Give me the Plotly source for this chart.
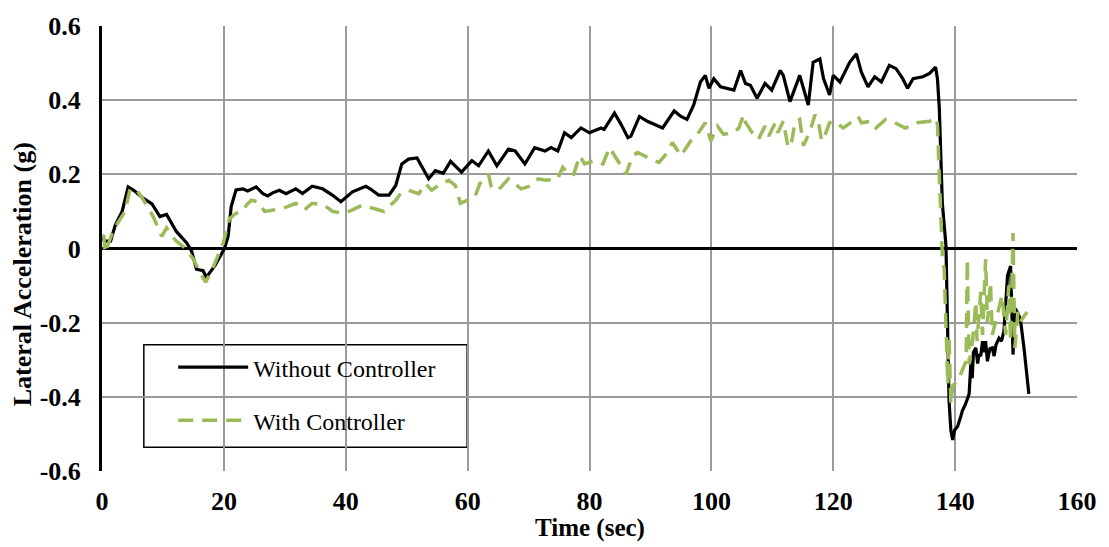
import plotly.graph_objects as go

# ---------------- data (time in s, lateral acceleration in g) ----------------
without_points = [
    (0.0, 0.03), (0.5, 0.02), (1.4, 0.02), (2.2, 0.064), (3.3, 0.10), (4.3, 0.166), (5.2, 0.157),
    (6.8, 0.135), (8.2, 0.12), (9.5, 0.086), (10.6, 0.092), (12.2, 0.046), (13.9, 0.015), (14.7, -0.007),
    (15.5, -0.056), (16.6, -0.06), (17.1, -0.078), (18.5, -0.047), (20.1, 0.0), (20.7, 0.033), (21.2, 0.113),
    (22.0, 0.158), (23.1, 0.161), (23.9, 0.155), (25.3, 0.166), (26.4, 0.148), (27.2, 0.142), (28.0, 0.15),
    (29.1, 0.157), (30.2, 0.148), (31.8, 0.161), (32.9, 0.148), (34.5, 0.168), (36.2, 0.161), (37.8, 0.144),
    (39.2, 0.126), (41.1, 0.153), (43.3, 0.168), (44.0, 0.161), (45.4, 0.144), (47.1, 0.144), (48.2, 0.170),
    (49.2, 0.228), (50.3, 0.241), (51.7, 0.244), (52.5, 0.219), (53.6, 0.188), (54.7, 0.21), (55.4, 0.206),
    (56.0, 0.203), (57.2, 0.235), (59.0, 0.206), (60.7, 0.237), (61.8, 0.223), (63.4, 0.263), (64.8, 0.223),
    (66.7, 0.268), (67.8, 0.263), (69.4, 0.228), (71.0, 0.272), (72.7, 0.263), (73.7, 0.272), (74.8, 0.263),
    (75.9, 0.312), (77.0, 0.299), (78.6, 0.325), (80.0, 0.312), (81.9, 0.325), (82.4, 0.321), (84.1, 0.365),
    (85.2, 0.334), (86.3, 0.299), (86.8, 0.303), (88.2, 0.356), (89.5, 0.343), (91.1, 0.33), (92.0, 0.325),
    (93.9, 0.371), (95.0, 0.356), (96.0, 0.348), (97.1, 0.387), (98.2, 0.449), (99.0, 0.467), (99.6, 0.432),
    (100.4, 0.458), (101.5, 0.436), (102.6, 0.432), (103.7, 0.427), (104.8, 0.480), (105.6, 0.445),
    (106.4, 0.44), (107.5, 0.405), (108.8, 0.445), (109.9, 0.427), (111.3, 0.48), (111.8, 0.467),
    (112.9, 0.396), (114.5, 0.467), (115.9, 0.387), (116.7, 0.502), (117.8, 0.511), (118.4, 0.458),
    (119.4, 0.414), (120.0, 0.467), (121.1, 0.449), (122.7, 0.502), (123.8, 0.525), (124.6, 0.476),
    (125.7, 0.436), (126.8, 0.463), (127.9, 0.449), (129.2, 0.494), (130.3, 0.485), (131.4, 0.458),
    (132.2, 0.432), (133.1, 0.458), (134.7, 0.463), (135.8, 0.472), (136.8, 0.489), (137.1, 0.458),
    (137.4, 0.379), (137.9, 0.122), (138.5, 0.007), (139.0, -0.41), (139.3, -0.49), (139.6, -0.516),
    (139.9, -0.49), (140.4, -0.48), (140.8, -0.46), (141.2, -0.437), (141.7, -0.42), (142.3, -0.392),
    (142.6, -0.304), (142.8, -0.35), (143.0, -0.28), (143.4, -0.268), (143.7, -0.31), (143.9, -0.286),
    (144.2, -0.29), (144.5, -0.25), (144.8, -0.28), (145.0, -0.25), (145.3, -0.304), (145.7, -0.27),
    (146.1, -0.268), (146.4, -0.29), (146.7, -0.26), (147.2, -0.242), (147.6, -0.25), (148.0, -0.224),
    (148.3, -0.15), (148.6, -0.073), (149.1, -0.047), (149.5, -0.286), (149.9, -0.162), (150.3, -0.175),
    (150.7, -0.189), (151.3, -0.268), (152.1, -0.392),
]

with_points = [
    (0.0, 0.035), (0.3, 0.033), (0.5, -0.011), (1.0, 0.01), (1.9, 0.05), (3.0, 0.08), (3.8, 0.1),
    (4.6, 0.161), (5.7, 0.157), (6.5, 0.139), (7.5, 0.11), (8.4, 0.086), (9.8, 0.033), (10.6, 0.055),
    (11.4, 0.035), (12.2, 0.02), (13.6, 0.002), (15.0, -0.029), (15.8, -0.056), (17.0, -0.091), (18.0, -0.06),
    (18.8, -0.029), (19.9, 0.015), (20.9, 0.08), (22.0, 0.095), (23.1, 0.1), (23.7, 0.117), (24.5, 0.13),
    (25.6, 0.126), (26.7, 0.1), (28.6, 0.104), (29.7, 0.108), (31.8, 0.122), (33.2, 0.104), (34.5, 0.122),
    (36.5, 0.117), (37.8, 0.1), (39.7, 0.095), (41.1, 0.104), (42.7, 0.117), (44.6, 0.108), (46.3, 0.1),
    (48.2, 0.13), (49.0, 0.148), (50.3, 0.157), (52.0, 0.148), (53.1, 0.175), (54.1, 0.157), (55.2, 0.17),
    (56.9, 0.184), (58.0, 0.17), (58.8, 0.122), (61.2, 0.139), (62.0, 0.175), (63.4, 0.201), (63.9, 0.166),
    (65.0, 0.157), (66.7, 0.188), (68.8, 0.161), (70.5, 0.17), (71.6, 0.188), (72.9, 0.184), (74.8, 0.188),
    (75.6, 0.219), (76.7, 0.197), (77.4, 0.2), (78.4, 0.25), (79.2, 0.228), (80.8, 0.237), (82.2, 0.228),
    (83.3, 0.272), (84.9, 0.228), (86.0, 0.201), (87.1, 0.25), (87.9, 0.259), (90.1, 0.241), (91.4, 0.232),
    (92.8, 0.259), (93.6, 0.286), (95.0, 0.25), (96.6, 0.29), (97.7, 0.308), (99.0, 0.339), (99.9, 0.29),
    (101.0, 0.33), (102.0, 0.308), (103.7, 0.312), (104.5, 0.325), (105.3, 0.361), (105.6, 0.34),
    (106.7, 0.312), (107.7, 0.294), (108.8, 0.33), (109.4, 0.303), (110.5, 0.339), (110.9, 0.312),
    (111.8, 0.343), (112.6, 0.272), (113.2, 0.29), (113.7, 0.339), (114.5, 0.348), (115.1, 0.277),
    (116.2, 0.317), (117.0, 0.361), (117.5, 0.348), (118.1, 0.29), (118.5, 0.3), (119.4, 0.339),
    (120.2, 0.343), (121.6, 0.325), (122.1, 0.33), (124.1, 0.356), (124.6, 0.339), (126.2, 0.343),
    (127.0, 0.325), (128.6, 0.348), (129.7, 0.343), (131.8, 0.325), (132.9, 0.334), (133.7, 0.339),
    (135.8, 0.343), (136.9, 0.352), (137.1, 0.334), (137.4, 0.21), (137.9, -0.02), (138.2, -0.056),
    (138.5, -0.25), (138.8, -0.366), (139.0, -0.24), (139.3, -0.419), (139.6, -0.37), (140.3, -0.36),
    (141.0, -0.335), (141.8, -0.304), (142.0, -0.029), (142.3, -0.312), (142.9, -0.242), (143.4, -0.144),
    (143.6, -0.25), (144.2, -0.117), (144.5, -0.233), (145.0, -0.029), (145.3, -0.2), (145.8, -0.091),
    (146.1, -0.233), (146.7, -0.189), (147.7, -0.126), (148.3, -0.233), (148.8, -0.1), (149.1, -0.25),
    (149.5, 0.042), (149.8, -0.268), (150.3, -0.171), (150.7, -0.197), (151.8, -0.171),
]

t_without = [p[0] for p in without_points]
y_without = [p[1] for p in without_points]
t_with = [p[0] for p in with_points]
y_with = [p[1] for p in with_points]

x_ticks = [0, 20, 40, 60, 80, 100, 120, 140, 160]
y_ticks = [-0.6, -0.4, -0.2, 0, 0.2, 0.4, 0.6]
y_tick_labels = ["-0.6", "-0.4", "-0.2", "0", "0.2", "0.4", "0.6"]

FONT = "Liberation Serif"

fig = go.Figure()
fig.add_trace(go.Scatter(x=t_without, y=y_without, mode="lines", name="Without Controller",
                         legendgroup="a", line=dict(color="black", width=3.2)))
fig.add_trace(go.Scatter(x=t_with, y=y_with, mode="lines", name="With Controller",
                         legendgroup="b", line=dict(color="#9BBB59", width=3.5, dash="15px,9px")))

fig.update_layout(
    width=1109, height=547,
    margin=dict(l=102, r=27, t=20, b=76),
    plot_bgcolor="white", paper_bgcolor="white",
    font=dict(family=FONT, color="black"),
    legend=dict(x=0.073, y=0.283, xanchor="left", yanchor="top",
                bgcolor="rgba(0,0,0,0)", borderwidth=0,
                font=dict(family=FONT, size=24, color="black"),
                itemwidth=70, tracegroupgap=19),
    shapes=[dict(type="rect", xref="paper", yref="paper",
                 x0=0.0429, x1=0.3745, y0=0.0532, y1=0.2838,
                 line=dict(color="black", width=1.5), fillcolor="white", layer="below")],
    annotations=[
        dict(text="<b>Lateral Acceleration (g)</b>", xref="paper", yref="paper",
             x=-0.082, y=0.442, textangle=-90, showarrow=False,
             xanchor="center", yanchor="middle",
             font=dict(family=FONT, size=26, color="black")),
        dict(text="<b>Time (sec)</b>", xref="paper", yref="paper",
             x=0.5, y=-0.128, showarrow=False, xanchor="center", yanchor="middle",
             font=dict(family=FONT, size=25, color="black")),
    ],
)

fig.update_xaxes(range=[0, 160], tickvals=x_ticks, showgrid=True, gridcolor="#9a9a9a", gridwidth=1.5,
                 zeroline=False, showline=False, ticks="", ticklabelstandoff=12,
                 tickfont=dict(family=FONT, size=26, weight="bold"))
fig.update_yaxes(range=[-0.6, 0.6], tickvals=y_ticks, ticktext=y_tick_labels, showgrid=True,
                 gridcolor="#9a9a9a", gridwidth=1.5, zeroline=True, zerolinecolor="black",
                 zerolinewidth=3, showline=True, linecolor="black", linewidth=3, ticks="",
                 ticklabelstandoff=13, tickfont=dict(family=FONT, size=26, weight="bold"))

fig.write_html("out.html")
